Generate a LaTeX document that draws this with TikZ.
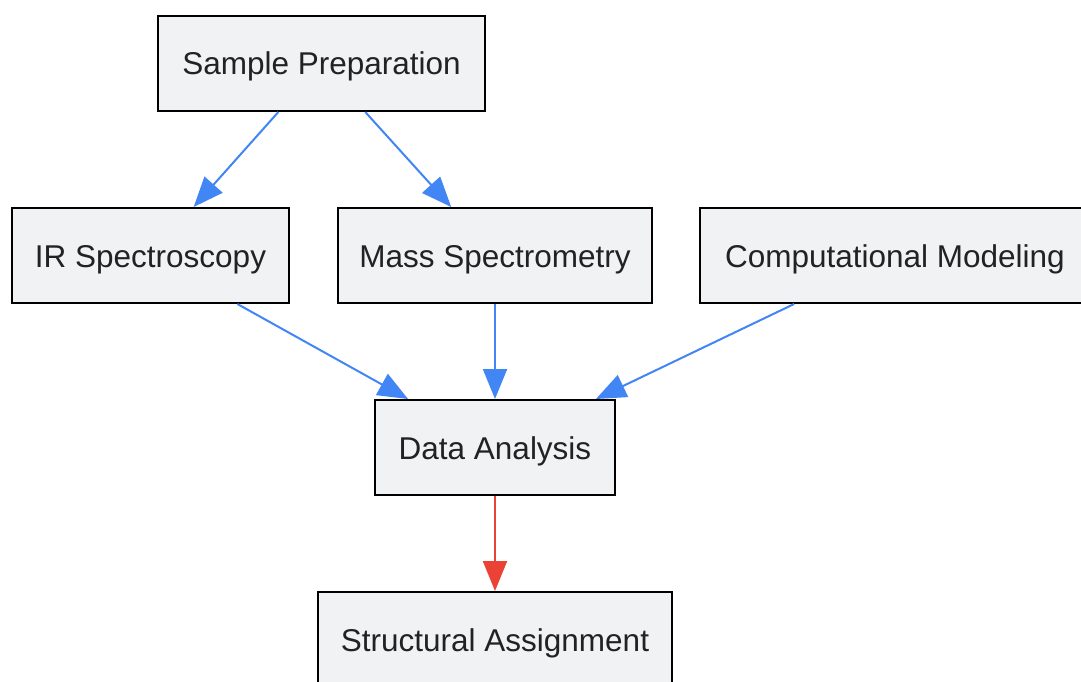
\documentclass[tikz,border=0pt]{standalone}
\usepackage{fontspec}
\setmainfont{Liberation Sans}
\usetikzlibrary{arrows.meta}
\definecolor{boxfill}{HTML}{F1F2F4}
\definecolor{boxtext}{HTML}{222222}
\definecolor{flowblue}{HTML}{4285F4}
\definecolor{flowred}{HTML}{EA4335}

\begin{document}
\begin{tikzpicture}[x=1pt,y=-1pt,
    stepbox/.style={draw=black, line width=2pt, fill=boxfill, text=boxtext,
      inner sep=0pt, minimum height=95pt, text height=24pt, text depth=1pt,
      font=\fontsize{31.5}{38}\selectfont},
    flow/.style={line width=2pt, -{Triangle[length=30pt,width=24pt]}}]
    \useasboundingbox (0,0) rectangle (1081,682);
    \clip (0,0) rectangle (1081,682);
    % the boxes, by their centres
    \node[stepbox, minimum width=327pt] (prep) at (321.5,63.5) {Sample Preparation};
    \node[stepbox, minimum width=277pt] (ir) at (150.5,255.5) {IR Spectroscopy};
    \node[stepbox, minimum width=314pt] (ms) at (495,255.5) {Mass Spectrometry};
    \node[stepbox, minimum width=390pt] (comp) at (895,255.5) {Computational Modeling};
    \node[stepbox, minimum width=240pt] (data) at (495,447.5) {Data Analysis};
    \node[stepbox, minimum width=354pt] (assign) at (495,639.5) {Structural Assignment};
    % the connectors
    \foreach \a/\b in {prep/ir, prep/ms, ir/data, ms/data, comp/data}
    {
      \draw[flow, flowblue] (\a) -- (\b);
    }
    \draw[flow, flowred] (data) -- (assign);
\end{tikzpicture}
\end{document}
